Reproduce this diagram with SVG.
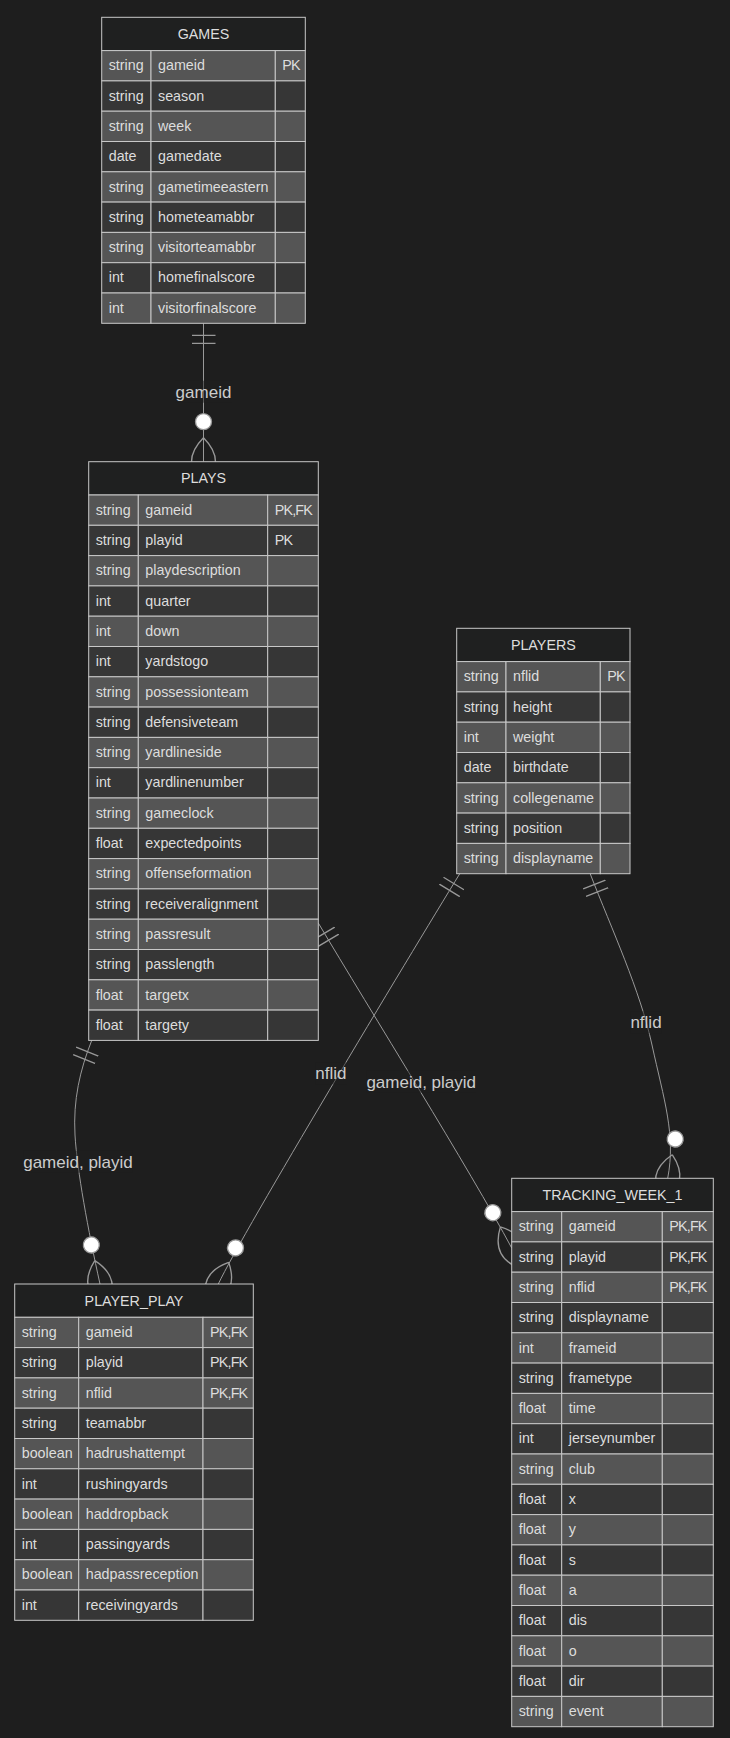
<svg xmlns="http://www.w3.org/2000/svg" width="730" height="1738" viewBox="0 0 730 1738">
<style>
.bg{fill:#1e1e1e}
.ent rect{stroke:#c8c8c8;stroke-width:1}
.hd{fill:#1f2020}
.o rect{fill:#555555}
.e rect{fill:#363636}
.ent text{font-family:"Liberation Sans",Arial,sans-serif;font-size:14.3px;fill:#dddddd}
.ent .ht{text-anchor:middle}
.ent .k{letter-spacing:-0.8px}
.lbl text{font-family:"Liberation Sans",Arial,sans-serif;font-size:17px;fill:#cccccc;text-anchor:middle}
.lbl rect{fill:#1e1e1e;opacity:0.5}
.rel{fill:none;stroke:#999999;stroke-width:1;marker-start:url(#oneStart);marker-end:url(#zeroManyEnd)}
</style>
<defs>
<marker id="oneStart" viewBox="0 0 18 18" refX="0" refY="9" markerWidth="24" markerHeight="24" markerUnits="userSpaceOnUse" orient="auto">
<path d="M9,0 L9,18 M15,0 L15,18" fill="none" stroke="#999999"/>
</marker>
<marker id="zeroManyEnd" viewBox="0 0 57 36" refX="39" refY="18" markerWidth="76" markerHeight="48" markerUnits="userSpaceOnUse" orient="auto">
<circle cx="9" cy="18" r="6" fill="#ffffff" stroke="#999999"/>
<path d="M21,18 Q39,0 57,18 Q39,36 21,18" fill="none" stroke="#999999"/>
</marker>
</defs>
<rect class="bg" x="0" y="0" width="730" height="1738"/>

<g id="connectors">
<path class="rel" d="M203.5,323.3 L203.5,461.7"/>
<path class="rel" d="M91.7,1040.5 C80,1070 73,1100 75,1135 C77,1170 88,1230 100,1284"/>
<path class="rel" d="M460,873.3 C408,958.3 244.1,1230 218.3,1284"/>
<path class="rel" d="M318.3,923 C370,1010 470,1170 511.7,1248"/>
<path class="rel" d="M590,873.3 C612,930 640,990 652,1045 C664,1100 676,1135 667.7,1178.3"/>
</g>

<g id="labels" class="lbl">
<g id="label-games-plays"><rect x="175.6" y="380.7" width="55.8" height="22"/><text x="203.5" y="397.7">gameid</text></g>
<g id="label-plays-playerplay"><rect x="23.2" y="1150.7" width="109.6" height="22"/><text x="78" y="1167.7">gameid, playid</text></g>
<g id="label-players-playerplay"><rect x="315.2" y="1062.3" width="31.2" height="22"/><text x="330.8" y="1079.3">nflid</text></g>
<g id="label-plays-tracking"><rect x="366.4" y="1070.7" width="109.6" height="22"/><text x="421.2" y="1087.7">gameid, playid</text></g>
<g id="label-players-tracking"><rect x="630.4" y="1011.3" width="31.2" height="22"/><text x="646" y="1028.3">nflid</text></g>
</g>

<g id="entity-GAMES" class="ent" transform="translate(101.7,17.3)">
<rect class="hd" width="203.6" height="33.3"/>
<text class="ht" x="101.8" y="21.8">GAMES</text>
<g class="o" transform="translate(0,33.3)"><rect width="49.3" height="30.3"/><rect x="49.3" width="124.3" height="30.3"/><rect x="173.6" width="30" height="30.3"/><text x="7" y="19.8">string</text><text x="56.3" y="19.8">gameid</text><text class="k" x="180.6" y="19.8">PK</text></g>
<g class="e" transform="translate(0,63.6)"><rect width="49.3" height="30.3"/><rect x="49.3" width="124.3" height="30.3"/><rect x="173.6" width="30" height="30.3"/><text x="7" y="19.8">string</text><text x="56.3" y="19.8">season</text></g>
<g class="o" transform="translate(0,93.9)"><rect width="49.3" height="30.3"/><rect x="49.3" width="124.3" height="30.3"/><rect x="173.6" width="30" height="30.3"/><text x="7" y="19.8">string</text><text x="56.3" y="19.8">week</text></g>
<g class="e" transform="translate(0,124.2)"><rect width="49.3" height="30.3"/><rect x="49.3" width="124.3" height="30.3"/><rect x="173.6" width="30" height="30.3"/><text x="7" y="19.8">date</text><text x="56.3" y="19.8">gamedate</text></g>
<g class="o" transform="translate(0,154.5)"><rect width="49.3" height="30.3"/><rect x="49.3" width="124.3" height="30.3"/><rect x="173.6" width="30" height="30.3"/><text x="7" y="19.8">string</text><text x="56.3" y="19.8">gametimeeastern</text></g>
<g class="e" transform="translate(0,184.8)"><rect width="49.3" height="30.3"/><rect x="49.3" width="124.3" height="30.3"/><rect x="173.6" width="30" height="30.3"/><text x="7" y="19.8">string</text><text x="56.3" y="19.8">hometeamabbr</text></g>
<g class="o" transform="translate(0,215.1)"><rect width="49.3" height="30.3"/><rect x="49.3" width="124.3" height="30.3"/><rect x="173.6" width="30" height="30.3"/><text x="7" y="19.8">string</text><text x="56.3" y="19.8">visitorteamabbr</text></g>
<g class="e" transform="translate(0,245.4)"><rect width="49.3" height="30.3"/><rect x="49.3" width="124.3" height="30.3"/><rect x="173.6" width="30" height="30.3"/><text x="7" y="19.8">int</text><text x="56.3" y="19.8">homefinalscore</text></g>
<g class="o" transform="translate(0,275.7)"><rect width="49.3" height="30.3"/><rect x="49.3" width="124.3" height="30.3"/><rect x="173.6" width="30" height="30.3"/><text x="7" y="19.8">int</text><text x="56.3" y="19.8">visitorfinalscore</text></g>
</g>

<g id="entity-PLAYS" class="ent" transform="translate(88.7,461.7)">
<rect class="hd" width="229.6" height="33.3"/>
<text class="ht" x="114.8" y="21.8">PLAYS</text>
<g class="o" transform="translate(0,33.3)"><rect width="49.6" height="30.3"/><rect x="49.6" width="129.4" height="30.3"/><rect x="179" width="50.6" height="30.3"/><text x="7" y="19.8">string</text><text x="56.6" y="19.8">gameid</text><text class="k" x="186" y="19.8">PK,FK</text></g>
<g class="e" transform="translate(0,63.6)"><rect width="49.6" height="30.3"/><rect x="49.6" width="129.4" height="30.3"/><rect x="179" width="50.6" height="30.3"/><text x="7" y="19.8">string</text><text x="56.6" y="19.8">playid</text><text class="k" x="186" y="19.8">PK</text></g>
<g class="o" transform="translate(0,93.9)"><rect width="49.6" height="30.3"/><rect x="49.6" width="129.4" height="30.3"/><rect x="179" width="50.6" height="30.3"/><text x="7" y="19.8">string</text><text x="56.6" y="19.8">playdescription</text></g>
<g class="e" transform="translate(0,124.2)"><rect width="49.6" height="30.3"/><rect x="49.6" width="129.4" height="30.3"/><rect x="179" width="50.6" height="30.3"/><text x="7" y="19.8">int</text><text x="56.6" y="19.8">quarter</text></g>
<g class="o" transform="translate(0,154.5)"><rect width="49.6" height="30.3"/><rect x="49.6" width="129.4" height="30.3"/><rect x="179" width="50.6" height="30.3"/><text x="7" y="19.8">int</text><text x="56.6" y="19.8">down</text></g>
<g class="e" transform="translate(0,184.8)"><rect width="49.6" height="30.3"/><rect x="49.6" width="129.4" height="30.3"/><rect x="179" width="50.6" height="30.3"/><text x="7" y="19.8">int</text><text x="56.6" y="19.8">yardstogo</text></g>
<g class="o" transform="translate(0,215.1)"><rect width="49.6" height="30.3"/><rect x="49.6" width="129.4" height="30.3"/><rect x="179" width="50.6" height="30.3"/><text x="7" y="19.8">string</text><text x="56.6" y="19.8">possessionteam</text></g>
<g class="e" transform="translate(0,245.4)"><rect width="49.6" height="30.3"/><rect x="49.6" width="129.4" height="30.3"/><rect x="179" width="50.6" height="30.3"/><text x="7" y="19.8">string</text><text x="56.6" y="19.8">defensiveteam</text></g>
<g class="o" transform="translate(0,275.7)"><rect width="49.6" height="30.3"/><rect x="49.6" width="129.4" height="30.3"/><rect x="179" width="50.6" height="30.3"/><text x="7" y="19.8">string</text><text x="56.6" y="19.8">yardlineside</text></g>
<g class="e" transform="translate(0,306)"><rect width="49.6" height="30.3"/><rect x="49.6" width="129.4" height="30.3"/><rect x="179" width="50.6" height="30.3"/><text x="7" y="19.8">int</text><text x="56.6" y="19.8">yardlinenumber</text></g>
<g class="o" transform="translate(0,336.3)"><rect width="49.6" height="30.3"/><rect x="49.6" width="129.4" height="30.3"/><rect x="179" width="50.6" height="30.3"/><text x="7" y="19.8">string</text><text x="56.6" y="19.8">gameclock</text></g>
<g class="e" transform="translate(0,366.6)"><rect width="49.6" height="30.3"/><rect x="49.6" width="129.4" height="30.3"/><rect x="179" width="50.6" height="30.3"/><text x="7" y="19.8">float</text><text x="56.6" y="19.8">expectedpoints</text></g>
<g class="o" transform="translate(0,396.9)"><rect width="49.6" height="30.3"/><rect x="49.6" width="129.4" height="30.3"/><rect x="179" width="50.6" height="30.3"/><text x="7" y="19.8">string</text><text x="56.6" y="19.8">offenseformation</text></g>
<g class="e" transform="translate(0,427.2)"><rect width="49.6" height="30.3"/><rect x="49.6" width="129.4" height="30.3"/><rect x="179" width="50.6" height="30.3"/><text x="7" y="19.8">string</text><text x="56.6" y="19.8">receiveralignment</text></g>
<g class="o" transform="translate(0,457.5)"><rect width="49.6" height="30.3"/><rect x="49.6" width="129.4" height="30.3"/><rect x="179" width="50.6" height="30.3"/><text x="7" y="19.8">string</text><text x="56.6" y="19.8">passresult</text></g>
<g class="e" transform="translate(0,487.8)"><rect width="49.6" height="30.3"/><rect x="49.6" width="129.4" height="30.3"/><rect x="179" width="50.6" height="30.3"/><text x="7" y="19.8">string</text><text x="56.6" y="19.8">passlength</text></g>
<g class="o" transform="translate(0,518.1)"><rect width="49.6" height="30.3"/><rect x="49.6" width="129.4" height="30.3"/><rect x="179" width="50.6" height="30.3"/><text x="7" y="19.8">float</text><text x="56.6" y="19.8">targetx</text></g>
<g class="e" transform="translate(0,548.4)"><rect width="49.6" height="30.3"/><rect x="49.6" width="129.4" height="30.3"/><rect x="179" width="50.6" height="30.3"/><text x="7" y="19.8">float</text><text x="56.6" y="19.8">targety</text></g>
</g>

<g id="entity-PLAYERS" class="ent" transform="translate(456.7,628.3)">
<rect class="hd" width="173.3" height="33.3"/>
<text class="ht" x="86.65" y="21.8">PLAYERS</text>
<g class="o" transform="translate(0,33.3)"><rect width="49.3" height="30.3"/><rect x="49.3" width="94.3" height="30.3"/><rect x="143.6" width="29.7" height="30.3"/><text x="7" y="19.8">string</text><text x="56.3" y="19.8">nflid</text><text class="k" x="150.6" y="19.8">PK</text></g>
<g class="e" transform="translate(0,63.6)"><rect width="49.3" height="30.3"/><rect x="49.3" width="94.3" height="30.3"/><rect x="143.6" width="29.7" height="30.3"/><text x="7" y="19.8">string</text><text x="56.3" y="19.8">height</text></g>
<g class="o" transform="translate(0,93.9)"><rect width="49.3" height="30.3"/><rect x="49.3" width="94.3" height="30.3"/><rect x="143.6" width="29.7" height="30.3"/><text x="7" y="19.8">int</text><text x="56.3" y="19.8">weight</text></g>
<g class="e" transform="translate(0,124.2)"><rect width="49.3" height="30.3"/><rect x="49.3" width="94.3" height="30.3"/><rect x="143.6" width="29.7" height="30.3"/><text x="7" y="19.8">date</text><text x="56.3" y="19.8">birthdate</text></g>
<g class="o" transform="translate(0,154.5)"><rect width="49.3" height="30.3"/><rect x="49.3" width="94.3" height="30.3"/><rect x="143.6" width="29.7" height="30.3"/><text x="7" y="19.8">string</text><text x="56.3" y="19.8">collegename</text></g>
<g class="e" transform="translate(0,184.8)"><rect width="49.3" height="30.3"/><rect x="49.3" width="94.3" height="30.3"/><rect x="143.6" width="29.7" height="30.3"/><text x="7" y="19.8">string</text><text x="56.3" y="19.8">position</text></g>
<g class="o" transform="translate(0,215.1)"><rect width="49.3" height="30.3"/><rect x="49.3" width="94.3" height="30.3"/><rect x="143.6" width="29.7" height="30.3"/><text x="7" y="19.8">string</text><text x="56.3" y="19.8">displayname</text></g>
</g>

<g id="entity-PLAYER_PLAY" class="ent" transform="translate(14.7,1284)">
<rect class="hd" width="238.6" height="33.3"/>
<text class="ht" x="119.3" y="21.8">PLAYER_PLAY</text>
<g class="o" transform="translate(0,33.3)"><rect width="64" height="30.3"/><rect x="64" width="124.3" height="30.3"/><rect x="188.3" width="50.3" height="30.3"/><text x="7" y="19.8">string</text><text x="71" y="19.8">gameid</text><text class="k" x="195.3" y="19.8">PK,FK</text></g>
<g class="e" transform="translate(0,63.6)"><rect width="64" height="30.3"/><rect x="64" width="124.3" height="30.3"/><rect x="188.3" width="50.3" height="30.3"/><text x="7" y="19.8">string</text><text x="71" y="19.8">playid</text><text class="k" x="195.3" y="19.8">PK,FK</text></g>
<g class="o" transform="translate(0,93.9)"><rect width="64" height="30.3"/><rect x="64" width="124.3" height="30.3"/><rect x="188.3" width="50.3" height="30.3"/><text x="7" y="19.8">string</text><text x="71" y="19.8">nflid</text><text class="k" x="195.3" y="19.8">PK,FK</text></g>
<g class="e" transform="translate(0,124.2)"><rect width="64" height="30.3"/><rect x="64" width="124.3" height="30.3"/><rect x="188.3" width="50.3" height="30.3"/><text x="7" y="19.8">string</text><text x="71" y="19.8">teamabbr</text></g>
<g class="o" transform="translate(0,154.5)"><rect width="64" height="30.3"/><rect x="64" width="124.3" height="30.3"/><rect x="188.3" width="50.3" height="30.3"/><text x="7" y="19.8">boolean</text><text x="71" y="19.8">hadrushattempt</text></g>
<g class="e" transform="translate(0,184.8)"><rect width="64" height="30.3"/><rect x="64" width="124.3" height="30.3"/><rect x="188.3" width="50.3" height="30.3"/><text x="7" y="19.8">int</text><text x="71" y="19.8">rushingyards</text></g>
<g class="o" transform="translate(0,215.1)"><rect width="64" height="30.3"/><rect x="64" width="124.3" height="30.3"/><rect x="188.3" width="50.3" height="30.3"/><text x="7" y="19.8">boolean</text><text x="71" y="19.8">haddropback</text></g>
<g class="e" transform="translate(0,245.4)"><rect width="64" height="30.3"/><rect x="64" width="124.3" height="30.3"/><rect x="188.3" width="50.3" height="30.3"/><text x="7" y="19.8">int</text><text x="71" y="19.8">passingyards</text></g>
<g class="o" transform="translate(0,275.7)"><rect width="64" height="30.3"/><rect x="64" width="124.3" height="30.3"/><rect x="188.3" width="50.3" height="30.3"/><text x="7" y="19.8">boolean</text><text x="71" y="19.8">hadpassreception</text></g>
<g class="e" transform="translate(0,306)"><rect width="64" height="30.3"/><rect x="64" width="124.3" height="30.3"/><rect x="188.3" width="50.3" height="30.3"/><text x="7" y="19.8">int</text><text x="71" y="19.8">receivingyards</text></g>
</g>

<g id="entity-TRACKING_WEEK_1" class="ent" transform="translate(511.7,1178.3)">
<rect class="hd" width="201.6" height="33.3"/>
<text class="ht" x="100.8" y="21.8">TRACKING_WEEK_1</text>
<g class="o" transform="translate(0,33.3)"><rect width="50" height="30.3"/><rect x="50" width="100.6" height="30.3"/><rect x="150.6" width="51" height="30.3"/><text x="7" y="19.8">string</text><text x="57" y="19.8">gameid</text><text class="k" x="157.6" y="19.8">PK,FK</text></g>
<g class="e" transform="translate(0,63.6)"><rect width="50" height="30.3"/><rect x="50" width="100.6" height="30.3"/><rect x="150.6" width="51" height="30.3"/><text x="7" y="19.8">string</text><text x="57" y="19.8">playid</text><text class="k" x="157.6" y="19.8">PK,FK</text></g>
<g class="o" transform="translate(0,93.9)"><rect width="50" height="30.3"/><rect x="50" width="100.6" height="30.3"/><rect x="150.6" width="51" height="30.3"/><text x="7" y="19.8">string</text><text x="57" y="19.8">nflid</text><text class="k" x="157.6" y="19.8">PK,FK</text></g>
<g class="e" transform="translate(0,124.2)"><rect width="50" height="30.3"/><rect x="50" width="100.6" height="30.3"/><rect x="150.6" width="51" height="30.3"/><text x="7" y="19.8">string</text><text x="57" y="19.8">displayname</text></g>
<g class="o" transform="translate(0,154.5)"><rect width="50" height="30.3"/><rect x="50" width="100.6" height="30.3"/><rect x="150.6" width="51" height="30.3"/><text x="7" y="19.8">int</text><text x="57" y="19.8">frameid</text></g>
<g class="e" transform="translate(0,184.8)"><rect width="50" height="30.3"/><rect x="50" width="100.6" height="30.3"/><rect x="150.6" width="51" height="30.3"/><text x="7" y="19.8">string</text><text x="57" y="19.8">frametype</text></g>
<g class="o" transform="translate(0,215.1)"><rect width="50" height="30.3"/><rect x="50" width="100.6" height="30.3"/><rect x="150.6" width="51" height="30.3"/><text x="7" y="19.8">float</text><text x="57" y="19.8">time</text></g>
<g class="e" transform="translate(0,245.4)"><rect width="50" height="30.3"/><rect x="50" width="100.6" height="30.3"/><rect x="150.6" width="51" height="30.3"/><text x="7" y="19.8">int</text><text x="57" y="19.8">jerseynumber</text></g>
<g class="o" transform="translate(0,275.7)"><rect width="50" height="30.3"/><rect x="50" width="100.6" height="30.3"/><rect x="150.6" width="51" height="30.3"/><text x="7" y="19.8">string</text><text x="57" y="19.8">club</text></g>
<g class="e" transform="translate(0,306)"><rect width="50" height="30.3"/><rect x="50" width="100.6" height="30.3"/><rect x="150.6" width="51" height="30.3"/><text x="7" y="19.8">float</text><text x="57" y="19.8">x</text></g>
<g class="o" transform="translate(0,336.3)"><rect width="50" height="30.3"/><rect x="50" width="100.6" height="30.3"/><rect x="150.6" width="51" height="30.3"/><text x="7" y="19.8">float</text><text x="57" y="19.8">y</text></g>
<g class="e" transform="translate(0,366.6)"><rect width="50" height="30.3"/><rect x="50" width="100.6" height="30.3"/><rect x="150.6" width="51" height="30.3"/><text x="7" y="19.8">float</text><text x="57" y="19.8">s</text></g>
<g class="o" transform="translate(0,396.9)"><rect width="50" height="30.3"/><rect x="50" width="100.6" height="30.3"/><rect x="150.6" width="51" height="30.3"/><text x="7" y="19.8">float</text><text x="57" y="19.8">a</text></g>
<g class="e" transform="translate(0,427.2)"><rect width="50" height="30.3"/><rect x="50" width="100.6" height="30.3"/><rect x="150.6" width="51" height="30.3"/><text x="7" y="19.8">float</text><text x="57" y="19.8">dis</text></g>
<g class="o" transform="translate(0,457.5)"><rect width="50" height="30.3"/><rect x="50" width="100.6" height="30.3"/><rect x="150.6" width="51" height="30.3"/><text x="7" y="19.8">float</text><text x="57" y="19.8">o</text></g>
<g class="e" transform="translate(0,487.8)"><rect width="50" height="30.3"/><rect x="50" width="100.6" height="30.3"/><rect x="150.6" width="51" height="30.3"/><text x="7" y="19.8">float</text><text x="57" y="19.8">dir</text></g>
<g class="o" transform="translate(0,518.1)"><rect width="50" height="30.3"/><rect x="50" width="100.6" height="30.3"/><rect x="150.6" width="51" height="30.3"/><text x="7" y="19.8">string</text><text x="57" y="19.8">event</text></g>
</g>
</svg>
